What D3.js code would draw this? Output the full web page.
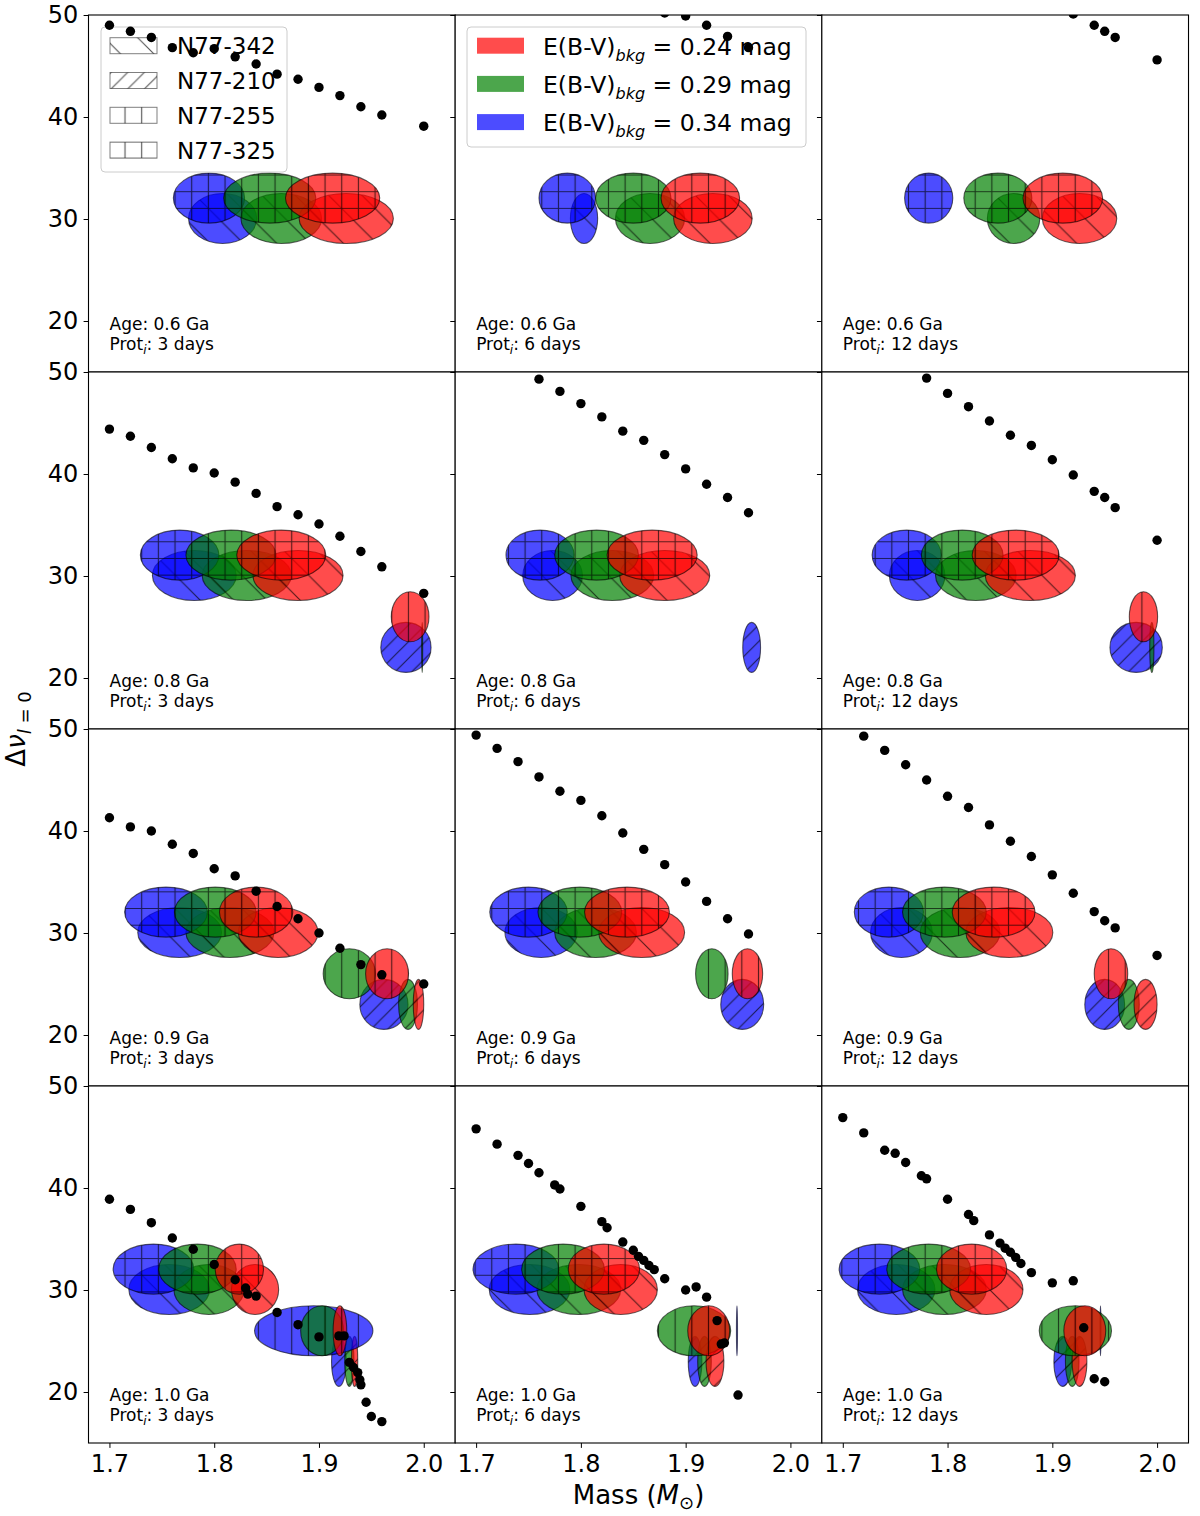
<!DOCTYPE html>
<html>
<head>
<meta charset="utf-8">
<script src="https://cdn.jsdelivr.net/npm/d3@7"></script>
<style>
    body { margin: 0; background: #fff; }
    svg { font-family: "DejaVu Sans", sans-serif; }
</style>
</head>
<body>
<div id="chart"></div>
<script>
const width = 1200;
const height = 1516;
const marginLeft = 88.5, marginTop = 15;
const panelW = 366.67, panelH = 357;

// --- labels / categories ---
const ages = ["0.6", "0.8", "0.9", "1.0"];
const protDays = [3, 6, 12];
const starNames = ["N77-342", "N77-210", "N77-255", "N77-325"];
const starHatch = ["back", "fwd", "vert", "cross"];
const starDnu = [30.05, 23.0, 26.0, 32.05];   // observed large separation per star
const dnuErr = 2.45;
const ebvValues = ["0.24", "0.29", "0.34"];
const ebvColors = ["#ff0000", "#008000", "#0000ff"];
const xTicks = [1.7, 1.8, 1.9, 2.0];
const yTicks = [20, 30, 40, 50];

// --- model tracks (mass, delta nu) per age / initial rotation period ---
const mass_06_3 = [1.70, 1.72, 1.74, 1.76, 1.78, 1.80, 1.82, 1.84, 1.86, 1.88, 1.90, 1.92, 1.94, 1.96, 2.00];
const dnu_06_3  = [49.0, 48.4, 47.8, 46.8, 46.3, 46.7, 45.9, 45.2, 44.2, 43.7, 42.9, 42.1, 41.0, 40.2, 39.1];
const mass_06_6 = [1.88, 1.90, 1.92, 1.94, 1.96];
const dnu_06_6  = [50.2, 49.9, 49.0, 47.9, 46.8];
const mass_06_12 = [1.92, 1.94, 1.95, 1.96, 2.00];
const dnu_06_12  = [50.1, 49.0, 48.4, 47.8, 45.6];

const mass_08_3 = [1.70, 1.72, 1.74, 1.76, 1.78, 1.80, 1.82, 1.84, 1.86, 1.88, 1.90, 1.92, 1.94, 1.96, 2.00];
const dnu_08_3  = [44.4, 43.7, 42.6, 41.5, 40.6, 40.1, 39.2, 38.1, 36.8, 36.0, 35.1, 33.9, 32.4, 30.9, 28.3];
const mass_08_6 = [1.76, 1.78, 1.80, 1.82, 1.84, 1.86, 1.88, 1.90, 1.92, 1.94, 1.96];
const dnu_08_6  = [49.3, 48.1, 46.9, 45.6, 44.2, 43.3, 41.9, 40.5, 39.0, 37.7, 36.2];
const mass_08_12 = [1.78, 1.80, 1.82, 1.84, 1.86, 1.88, 1.90, 1.92, 1.94, 1.95, 1.96, 2.00];
const dnu_08_12  = [49.4, 47.9, 46.6, 45.2, 43.8, 42.8, 41.4, 39.9, 38.3, 37.7, 36.7, 33.5];

const mass_09_3 = [1.70, 1.72, 1.74, 1.76, 1.78, 1.80, 1.82, 1.84, 1.86, 1.88, 1.90, 1.92, 1.94, 1.96, 2.00];
const dnu_09_3  = [41.3, 40.4, 40.0, 38.7, 37.8, 36.3, 35.6, 34.1, 32.6, 31.4, 30.0, 28.5, 26.9, 25.9, 25.0];
const mass_09_6 = [1.70, 1.72, 1.74, 1.76, 1.78, 1.80, 1.82, 1.84, 1.86, 1.88, 1.90, 1.92, 1.94, 1.96];
const dnu_09_6  = [49.4, 48.1, 46.8, 45.3, 43.9, 43.0, 41.5, 39.8, 38.2, 36.7, 35.0, 33.1, 31.4, 29.9];
const mass_09_12 = [1.72, 1.74, 1.76, 1.78, 1.80, 1.82, 1.84, 1.86, 1.88, 1.90, 1.92, 1.94, 1.95, 1.96, 2.00];
const dnu_09_12  = [49.3, 47.9, 46.5, 45.0, 43.4, 42.3, 40.6, 39.0, 37.5, 35.7, 33.9, 32.1, 31.2, 30.5, 27.8];

const mass_10_3 = [1.700, 1.720, 1.740, 1.760, 1.780, 1.800, 1.820, 1.830, 1.832, 1.840, 1.860, 1.880, 1.900, 1.919, 1.924, 1.929, 1.933, 1.937, 1.939, 1.940, 1.945, 1.950, 1.960];
const dnu_10_3  = [38.9, 37.9, 36.6, 35.1, 34.0, 32.5, 31.0, 30.2, 29.6, 29.4, 27.8, 26.6, 25.4, 25.5, 25.5, 22.9, 22.4, 21.9, 21.2, 20.7, 19.0, 17.6, 17.1];
const mass_10_6 = [1.700, 1.720, 1.740, 1.750, 1.760, 1.775, 1.780, 1.800, 1.820, 1.825, 1.840, 1.850, 1.855, 1.860, 1.865, 1.870, 1.880, 1.900, 1.910, 1.920, 1.930, 1.934, 1.937, 1.950];
const dnu_10_6  = [45.8, 44.3, 43.2, 42.4, 41.5, 40.3, 39.9, 38.2, 36.7, 36.1, 34.7, 33.9, 33.3, 32.9, 32.4, 32.0, 31.1, 30.0, 30.3, 29.3, 27.0, 24.7, 24.8, 19.7];
const mass_10_12 = [1.700, 1.720, 1.740, 1.750, 1.760, 1.775, 1.780, 1.800, 1.820, 1.825, 1.840, 1.850, 1.855, 1.860, 1.865, 1.870, 1.880, 1.900, 1.920, 1.930, 1.940, 1.950];
const dnu_10_12  = [46.9, 45.4, 43.7, 43.4, 42.5, 41.2, 40.9, 38.9, 37.4, 36.8, 35.4, 34.6, 34.1, 33.7, 33.2, 32.6, 31.7, 30.7, 30.9, 26.3, 21.3, 21.0];

// --- fitted mass solutions: [star index, E(B-V) index, mass, mass spread] ---
const fit_06_3 = [[0,2,1.808,0.065],[0,1,1.864,0.077],[0,0,1.926,0.090],[3,2,1.795,0.068],[3,1,1.853,0.088],[3,0,1.913,0.090]];
const fit_06_6 = [[0,2,1.803,0.026],[0,1,1.866,0.066],[0,0,1.926,0.075],[3,2,1.787,0.054],[3,1,1.850,0.072],[3,0,1.914,0.075]];
const fit_06_12 = [[0,1,1.863,0.050],[0,0,1.926,0.071],[3,2,1.782,0.046],[3,1,1.848,0.065],[3,0,1.910,0.076]];
const fit_08_3 = [[0,2,1.781,0.080],[0,1,1.831,0.085],[0,0,1.880,0.086],[1,2,1.983,0.048],[1,1,1.9985,0.001],[2,0,1.987,0.036],[3,2,1.767,0.075],[3,1,1.816,0.086],[3,0,1.864,0.085]];
const fit_08_6 = [[0,2,1.773,0.057],[0,1,1.830,0.079],[0,0,1.880,0.086],[1,2,1.963,0.017],[3,2,1.761,0.065],[3,1,1.815,0.080],[3,0,1.868,0.086]];
const fit_08_12 = [[0,2,1.771,0.053],[0,1,1.827,0.077],[0,0,1.879,0.086],[1,2,1.980,0.050],[1,1,1.995,0.004],[2,0,1.987,0.027],[3,2,1.761,0.066],[3,1,1.814,0.078],[3,0,1.865,0.083]];
const fit_09_3 = [[0,2,1.767,0.080],[0,1,1.815,0.084],[0,0,1.861,0.076],[1,2,1.962,0.046],[1,1,1.985,0.018],[1,0,1.995,0.010],[2,1,1.929,0.050],[2,0,1.965,0.041],[3,2,1.754,0.079],[3,1,1.801,0.078],[3,0,1.840,0.070]];
const fit_09_6 = [[0,2,1.762,0.069],[0,1,1.814,0.078],[0,0,1.858,0.082],[1,2,1.954,0.041],[2,1,1.925,0.031],[2,0,1.959,0.029],[3,2,1.750,0.074],[3,1,1.799,0.080],[3,0,1.844,0.081]];
const fit_09_12 = [[0,2,1.756,0.059],[0,1,1.812,0.076],[0,0,1.859,0.083],[1,2,1.950,0.038],[1,1,1.973,0.020],[1,0,1.989,0.022],[2,0,1.956,0.032],[3,2,1.744,0.066],[3,1,1.797,0.080],[3,0,1.844,0.079]];
const fit_10_3 = [[0,2,1.757,0.077],[0,1,1.795,0.067],[0,0,1.839,0.045],[1,2,1.919,0.014],[1,1,1.929,0.009],[1,0,1.934,0.006],[2,2,1.895,0.113],[2,1,1.903,0.041],[2,0,1.920,0.013],[3,2,1.742,0.077],[3,1,1.784,0.074],[3,0,1.824,0.046]];
const fit_10_6 = [[0,2,1.751,0.077],[0,1,1.798,0.080],[0,0,1.838,0.070],[1,2,1.909,0.013],[1,1,1.918,0.013],[1,0,1.928,0.017],[2,2,1.949,0.001],[2,1,1.908,0.070],[2,0,1.922,0.040],[3,2,1.738,0.082],[3,1,1.783,0.079],[3,0,1.822,0.068]];
const fit_10_12 = [[0,2,1.751,0.074],[0,1,1.797,0.080],[0,0,1.837,0.070],[1,2,1.910,0.017],[1,1,1.919,0.013],[1,0,1.926,0.014],[2,2,1.946,0.001],[2,1,1.922,0.069],[2,0,1.931,0.040],[3,2,1.735,0.077],[3,1,1.782,0.080],[3,0,1.823,0.067]];

const panels = [
    { age: 0, prot: 0, mass: mass_06_3,  dnu: dnu_06_3,  fits: fit_06_3 },
    { age: 0, prot: 1, mass: mass_06_6,  dnu: dnu_06_6,  fits: fit_06_6 },
    { age: 0, prot: 2, mass: mass_06_12, dnu: dnu_06_12, fits: fit_06_12 },
    { age: 1, prot: 0, mass: mass_08_3,  dnu: dnu_08_3,  fits: fit_08_3 },
    { age: 1, prot: 1, mass: mass_08_6,  dnu: dnu_08_6,  fits: fit_08_6 },
    { age: 1, prot: 2, mass: mass_08_12, dnu: dnu_08_12, fits: fit_08_12 },
    { age: 2, prot: 0, mass: mass_09_3,  dnu: dnu_09_3,  fits: fit_09_3 },
    { age: 2, prot: 1, mass: mass_09_6,  dnu: dnu_09_6,  fits: fit_09_6 },
    { age: 2, prot: 2, mass: mass_09_12, dnu: dnu_09_12, fits: fit_09_12 },
    { age: 3, prot: 0, mass: mass_10_3,  dnu: dnu_10_3,  fits: fit_10_3 },
    { age: 3, prot: 1, mass: mass_10_6,  dnu: dnu_10_6,  fits: fit_10_6 },
    { age: 3, prot: 2, mass: mass_10_12, dnu: dnu_10_12, fits: fit_10_12 }
];

const svg = d3.select("#chart").append("svg")
    .attr("width", width)
    .attr("height", height);

// hatch patterns, tiled in page space like matplotlib
// single "\" hatch is half as dense as "//", "|" and "+"
const hs = 16.67, hb = 33.33;
const defs = svg.append("defs");
const hatchDefs = {
    back:  [hb, `M0,0L${hb},${hb}M${hb-3},-3L${hb+3},3M-3,${hb-3}L3,${hb+3}`],
    fwd:   [hs, `M0,${hs}L${hs},0M-3,3L3,-3M${hs-3},${hs+3}L${hs+3},${hs-3}`],
    vert:  [hs, `M${hs/2},0L${hs/2},${hs}`],
    cross: [hs, `M${hs/2},0L${hs/2},${hs}M0,${hs/2}L${hs},${hs/2}`]
};
Object.entries(hatchDefs).forEach(([name, [size, d]]) => {
    defs.append("pattern")
        .attr("id", "hatch-" + name)
        .attr("patternUnits", "userSpaceOnUse")
        .attr("width", size).attr("height", size)
        .append("path")
        .attr("d", d)
        .attr("fill", "none")
        .attr("stroke", "#000")
        .attr("stroke-opacity", 0.65)
        .attr("stroke-width", 1.15);
});

function drawStarLegend(g) {
    g.append("rect")
        .attr("x", 101).attr("y", 27).attr("width", 186).attr("height", 145)
        .attr("rx", 4).attr("fill", "#fff").attr("fill-opacity", 0.8)
        .attr("stroke", "#ccc");
    starNames.forEach((name, i) => {
        const cy = 45.7 + i * 34.8;
        g.append("rect")
            .attr("x", 110).attr("y", cy - 8).attr("width", 47).attr("height", 16)
            .attr("fill", "url(#hatch-" + starHatch[i] + ")")
            .attr("stroke", "#000").attr("stroke-opacity", 0.5).attr("stroke-width", 1);
        g.append("text")
            .attr("x", 177).attr("y", cy + 8.5)
            .attr("font-size", 23)
            .text(name);
    });
}

function drawColorLegend(g) {
    g.append("rect")
        .attr("x", 467).attr("y", 27).attr("width", 339).attr("height", 120)
        .attr("rx", 4).attr("fill", "#fff").attr("fill-opacity", 0.8)
        .attr("stroke", "#ccc");
    ebvValues.forEach((v, i) => {
        const cy = 45.7 + i * 38.2;
        g.append("rect")
            .attr("x", 477).attr("y", cy - 8).attr("width", 47).attr("height", 16)
            .attr("fill", ebvColors[i]).attr("fill-opacity", 0.7);
        const t = g.append("text")
            .attr("x", 543).attr("y", cy + 9)
            .attr("font-size", 23.5);
        t.append("tspan").text("E(B-V)");
        t.append("tspan").attr("font-size", 16).attr("font-style", "italic").attr("dy", 6).text("bkg");
        t.append("tspan").attr("dy", -6).text(" = " + v + " mag");
    });
}

panels.forEach((p, i) => {
    const row = Math.floor(i / 3), col = i % 3;
    const x0 = marginLeft + col * panelW, y0 = marginTop + row * panelH;

    const x = d3.scaleLinear().domain([1.68, 2.03]).range([x0, x0 + panelW]);
    const y = d3.scaleLinear().domain([15, 50]).range([y0 + panelH, y0]);

    const g = svg.append("g").attr("class", "panel");

    g.append("rect")
        .attr("x", x0).attr("y", y0).attr("width", panelW).attr("height", panelH)
        .attr("fill", "#fff");

    const clipId = "clip" + i;
    defs.append("clipPath").attr("id", clipId)
        .append("rect")
        .attr("x", x0).attr("y", y0).attr("width", panelW).attr("height", panelH);

    const plot = g.append("g").attr("clip-path", `url(#${clipId})`);

    // ellipses: star by star, blue then green then red
    const fits = p.fits.slice().sort((a, b) => a[0] - b[0] || b[1] - a[1]);
    fits.forEach(f => {
        const [s, c, m, w] = f;
        const cx = x(m), cy = y(starDnu[s]);
        const rx = Math.max(0.4, (x(m + w / 2) - x(m - w / 2)) / 2);
        const ry = (y(starDnu[s] - dnuErr) - y(starDnu[s] + dnuErr)) / 2;
        plot.append("ellipse")
            .attr("cx", cx).attr("cy", cy).attr("rx", rx).attr("ry", ry)
            .attr("fill", ebvColors[c]).attr("fill-opacity", 0.7);
        plot.append("ellipse")
            .attr("cx", cx).attr("cy", cy).attr("rx", rx).attr("ry", ry)
            .attr("fill", "url(#hatch-" + starHatch[s] + ")")
            .attr("stroke", "#000").attr("stroke-opacity", 0.6).attr("stroke-width", 1.1);
    });

    if (i === 0) drawStarLegend(g);
    if (i === 1) drawColorLegend(g);

    // model track points sit above the legend
    const dots = g.append("g").attr("clip-path", `url(#${clipId})`);
    dots.selectAll("circle")
        .data(p.mass.map((m, k) => ({ m: m, d: p.dnu[k] })))
        .enter().append("circle")
        .attr("cx", d => x(d.m))
        .attr("cy", d => y(d.d))
        .attr("r", 4.7)
        .attr("fill", "#000");

    g.append("text")
        .attr("x", x0 + 21).attr("y", y0 + 315)
        .attr("font-size", 17)
        .text("Age: " + ages[p.age] + " Ga");
    const pt = g.append("text")
        .attr("x", x0 + 21).attr("y", y0 + 335)
        .attr("font-size", 17);
    pt.append("tspan").text("Prot");
    pt.append("tspan").attr("font-size", 12).attr("font-style", "italic").attr("dy", 4).text("i");
    pt.append("tspan").attr("dy", -4).text(": " + protDays[p.prot] + " days");

    // left axis
    const yAxis = d3.axisLeft(y).tickValues(yTicks).tickSize(4.9).tickPadding(5.3)
        .tickFormat(col === 0 ? d3.format("d") : () => "");
    const ya = g.append("g").attr("transform", `translate(${x0},0)`).call(yAxis);
    ya.select(".domain").remove();
    ya.selectAll("text").attr("font-size", 24).attr("font-family", "DejaVu Sans").attr("fill", "#000");
    ya.selectAll("line").attr("stroke", "#000");

    if (row === 3) {
        const xAxis = d3.axisBottom(x).tickValues(xTicks).tickSize(4.9).tickPadding(7)
            .tickFormat(d3.format(".1f"));
        const xa = g.append("g").attr("transform", `translate(0,${y0 + panelH})`).call(xAxis);
        xa.select(".domain").remove();
        xa.selectAll("text").attr("font-size", 24).attr("font-family", "DejaVu Sans").attr("fill", "#000");
        xa.selectAll("line").attr("stroke", "#000");
    }

    g.append("rect")
        .attr("x", x0).attr("y", y0).attr("width", panelW).attr("height", panelH)
        .attr("fill", "none").attr("stroke", "#000").attr("stroke-width", 1.1);
});

// axis titles
const xl = svg.append("text")
    .attr("x", marginLeft + 1.5 * panelW).attr("y", 1504)
    .attr("text-anchor", "middle")
    .attr("font-size", 26);
xl.append("tspan").text("Mass (");
xl.append("tspan").attr("font-style", "italic").text("M");
xl.append("tspan").attr("font-size", 18).attr("dy", 5).text("\u2299");
xl.append("tspan").attr("dy", -5).text(")");

const yl = svg.append("text")
    .attr("transform", `translate(25,${marginTop + 2 * panelH}) rotate(-90)`)
    .attr("text-anchor", "middle")
    .attr("font-size", 26);
yl.append("tspan").text("\u0394");
yl.append("tspan").attr("font-style", "italic").text("\u03bd");
yl.append("tspan").attr("font-size", 18).attr("dy", 6).attr("font-style", "italic").text("l");
yl.append("tspan").attr("font-size", 18).text(" = 0");
</script>
</body>
</html>
